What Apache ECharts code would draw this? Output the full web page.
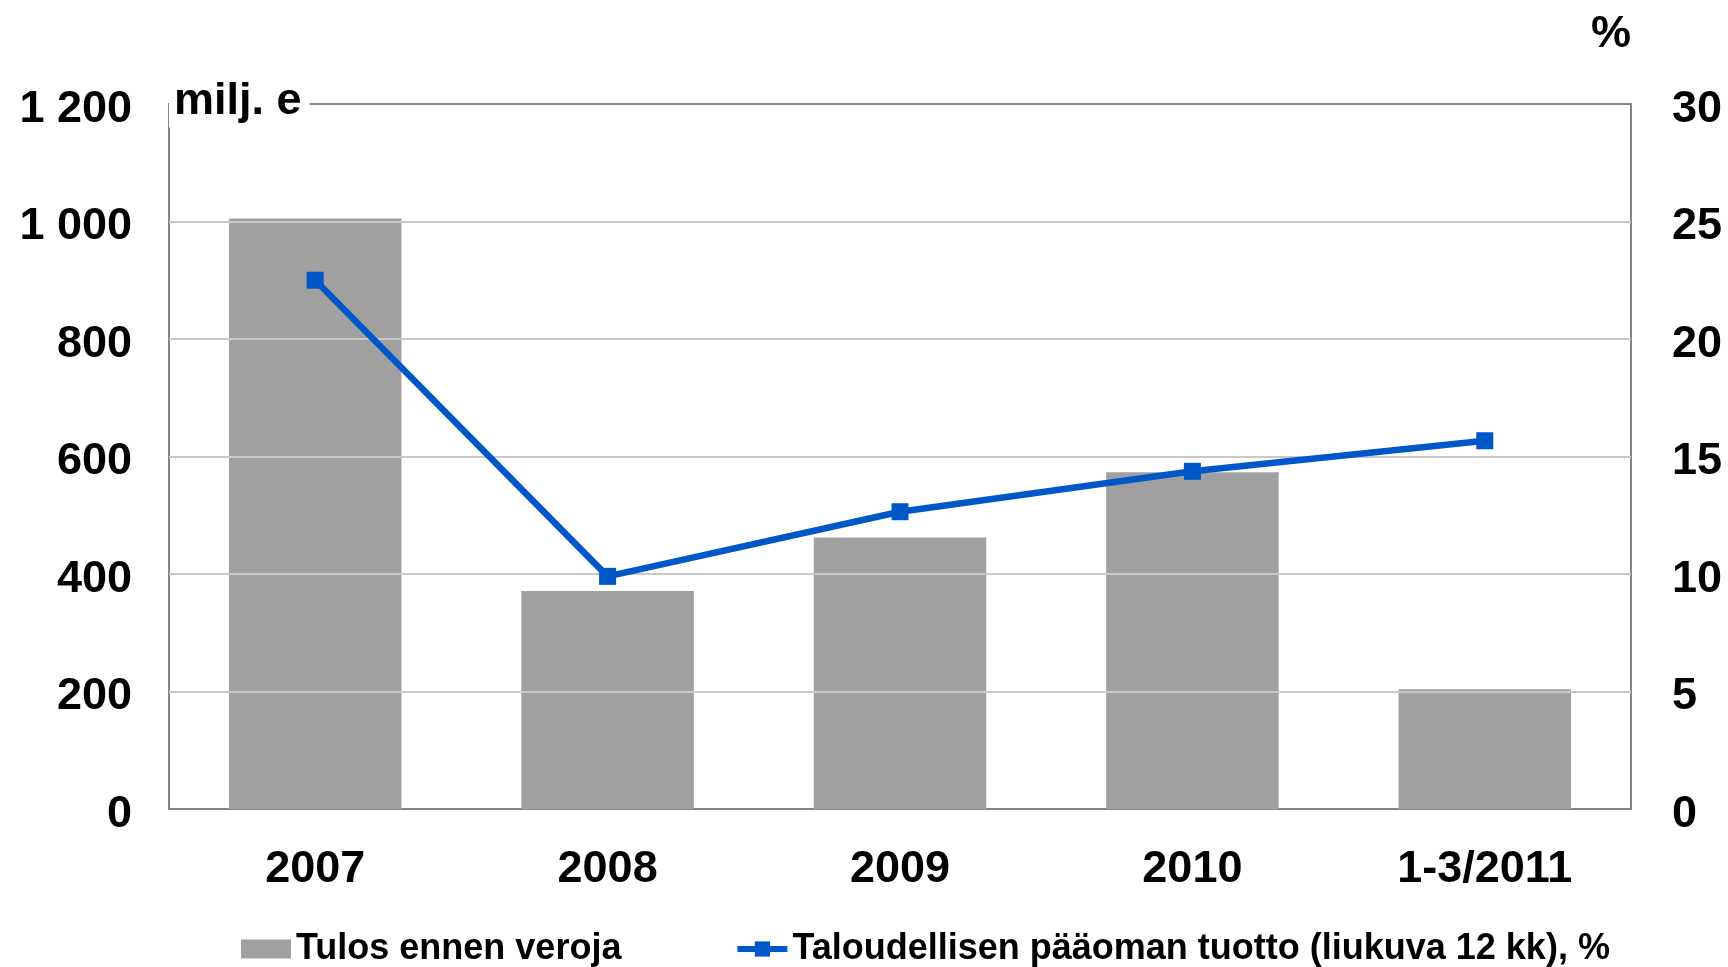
<!DOCTYPE html>
<html>
<head>
<meta charset="utf-8">
<script src="https://cdn.jsdelivr.net/npm/echarts@6/dist/echarts.min.js"></script>
<style>
html,body{margin:0;padding:0;background:#fff;}
#chart{width:1728px;height:967px;}
</style>
</head>
<body>
<div id="chart"></div>
<script>
const categories = ['2007', '2008', '2009', '2010', '1-3/2011'];
const barName = 'Tulos ennen veroja';
const barValues = [1005, 371, 462, 573, 204];
const lineName = 'Taloudellisen pääoman tuotto (liukuva 12 kk), %';
const lineValues = [22.5, 9.9, 12.65, 14.37, 15.67];
const leftAxisName = 'milj. e';
const rightAxisName = '%';

const FONT = "'Liberation Sans', Arial, sans-serif";
const chart = echarts.init(document.getElementById('chart'));

function thousands(v) {
  return String(v).replace(/\B(?=(\d{3})+(?!\d))/g, ' ');
}

const LINE_COLOR = '#0057c8';
const tickRich = {
  v: { fontFamily: FONT, fontWeight: 'bold', fontSize: 45, color: '#000', padding: [11, 0, 0, 0] }
};

chart.setOption({
  animation: false,
  backgroundColor: '#ffffff',
  textStyle: { fontFamily: FONT, fontWeight: 'bold', color: '#000' },
  grid: {
    left: 169, right: 97, top: 104, bottom: 158,
    show: true, borderColor: '#858585', borderWidth: 2, backgroundColor: 'transparent',
    outerBoundsMode: 'none', containLabel: false, z: 0
  },
  legend: {
    left: 236, top: 926,
    itemGap: 113, itemWidth: 50, itemHeight: 19,
    textStyle: { fontFamily: FONT, fontWeight: 'bold', fontSize: 36, color: '#000' },
    data: [
      { name: barName, icon: 'rect' },
      { name: lineName, lineStyle: { width: 6, color: LINE_COLOR } }
    ]
  },
  xAxis: {
    type: 'category',
    data: categories,
    axisLine: { show: true, lineStyle: { color: '#858585', width: 2 } },
    axisTick: { show: false },
    axisLabel: { margin: 38, fontFamily: FONT, fontWeight: 'bold', fontSize: 45, color: '#000' }
  },
  yAxis: [
    {
      type: 'value', min: 0, max: 1200, interval: 200, z: 3,
      name: leftAxisName, nameLocation: 'end', nameGap: 2,
      nameTextStyle: {
        fontFamily: FONT, fontWeight: 'bold', fontSize: 45, color: '#000',
        align: 'left', verticalAlign: 'middle',
        backgroundColor: '#ffffff', padding: [3, 8, 3, 5]
      },
      axisLine: { show: false },
      axisTick: { show: false },
      axisLabel: {
        margin: 37, fontFamily: FONT, fontWeight: 'bold', fontSize: 45, color: '#000',
        formatter: v => '{v|' + thousands(v) + '}', rich: tickRich
      },
      splitLine: { show: true, showMinLine: false, showMaxLine: false, lineStyle: { color: '#c8c8c8', width: 2 } }
    },
    {
      type: 'value', min: 0, max: 30, interval: 5, position: 'right',
      name: rightAxisName, nameLocation: 'end', nameGap: 69,
      nameTextStyle: {
        fontFamily: FONT, fontWeight: 'bold', fontSize: 45, color: '#000',
        align: 'right', verticalAlign: 'middle'
      },
      axisLine: { show: false },
      axisTick: { show: false },
      axisLabel: {
        margin: 41, fontFamily: FONT, fontWeight: 'bold', fontSize: 45, color: '#000',
        formatter: v => '{v|' + v + '}', rich: tickRich
      },
      splitLine: { show: false }
    }
  ],
  series: [
    {
      name: barName, type: 'bar', data: barValues, yAxisIndex: 0,
      barWidth: '59%',
      itemStyle: { color: '#a0a0a0' }
    },
    {
      name: lineName, type: 'line', data: lineValues, yAxisIndex: 1,
      symbol: 'rect', symbolSize: 17,
      lineStyle: { color: LINE_COLOR, width: 6.5 },
      itemStyle: { color: LINE_COLOR },
      z: 5
    }
  ]
});
</script>
</body>
</html>
